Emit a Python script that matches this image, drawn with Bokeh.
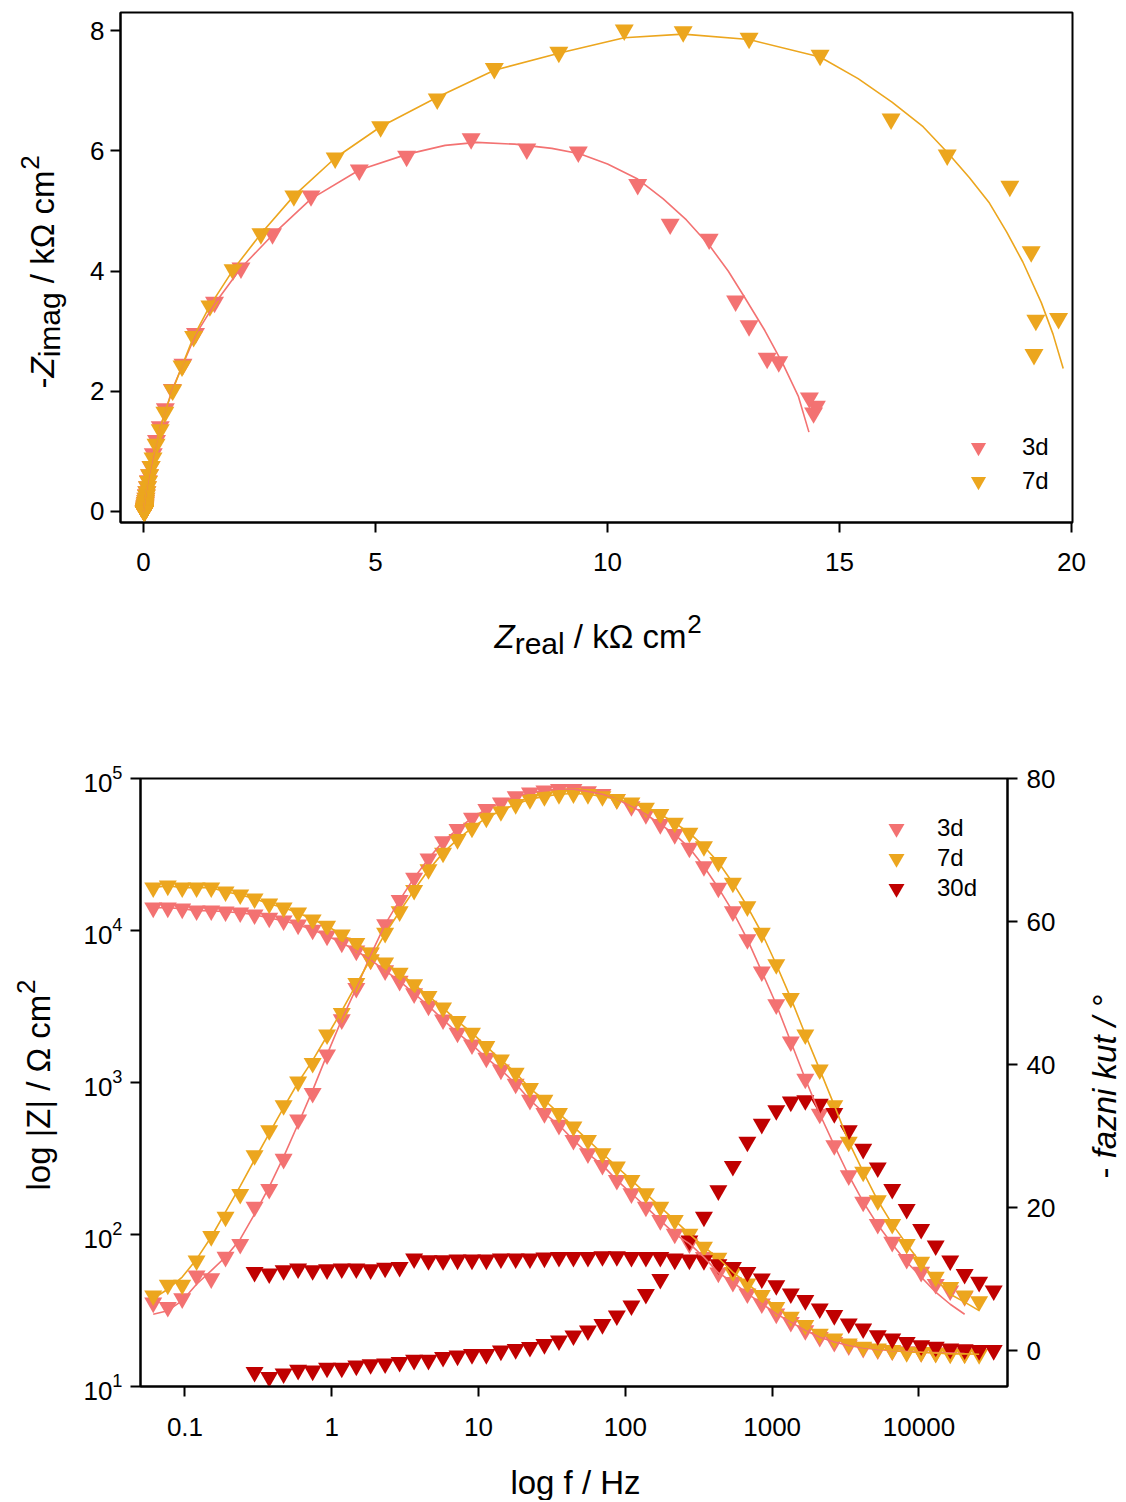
import math
from bokeh.plotting import figure
from bokeh.models import (Range1d, FixedTicker, LinearAxis, LinearScale, Label,
                          Legend, LegendItem, CustomJSTickFormatter)
from bokeh.layouts import column, row
from bokeh.embed import file_html
from bokeh.resources import INLINE

# ---------------------------------------------------------------- data
freq_hz = [0.0608, 0.0764, 0.0958, 0.120, 0.151, 0.189, 0.238, 0.298, 0.375, 0.470,
           0.590, 0.741, 0.929, 1.17, 1.47, 1.84, 2.31, 2.90, 3.64, 4.56,
           5.73, 7.19, 9.02, 11.3, 14.2, 17.9, 22.4, 28.1, 35.3, 44.3,
           55.6, 69.8, 87.5, 110, 138, 173, 217, 273, 343, 430,
           540, 678, 850, 1067, 1340, 1682, 2110, 2650, 3325, 4170,
           5240, 6575, 8250, 10350, 13000, 16330, 20470, 25700, 32300]
freq_3d = freq_hz[:57]
freq_7d = freq_hz[:58]
freq_30d = freq_hz[7:59]

zmod_3d = [14100, 14100, 13900, 13500, 13500, 13300, 13100, 12700, 12100, 11600,
           10900, 10100, 9230, 8300, 7360, 6400, 5450, 4650, 3850, 3190,
           2590, 2120, 1775, 1450, 1213, 980, 767, 627, 525, 418,
           341, 286, 228, 186, 152, 124, 101, 87, 71, 56,
           48.6, 40.8, 35.1, 30.1, 26.5, 23.4, 21.1, 19.6, 18.6, 17.9,
           17.5, 17.2, 17.0, 16.8, 16.7, 16.6, 16.5]
zmod_7d = [19150, 19700, 19150, 19150, 19150, 18000, 17200, 16200, 15000, 14100,
           13100, 11800, 10700, 9380, 8250, 7150, 6150, 5250, 4420, 3700,
           3100, 2530, 2120, 1730, 1410, 1156, 916, 767, 627, 512,
           418, 341, 279, 228, 186, 152, 124, 101, 82.8, 70,
           56.6, 47.5, 39.8, 33.3, 28.7, 25.3, 22.2, 20.6, 19.1, 18.2,
           17.7, 17.3, 16.8, 16.8, 16.6, 16.4, 16.4, 16.3]
zmod_30d = [56.6, 55.2, 58.1, 59.6, 58.1, 58.8, 59.6, 59.6, 58.8, 60.3,
            61.0, 69.4, 67.6, 67.6, 68.2, 68.2, 68.2, 69.4, 69.4, 69.4,
            70.3, 71.0, 71.0, 71.0, 71.7, 71.7, 71.0, 71.0, 71.0, 69.4,
            68.2, 67.6, 63.6, 61.0, 56.6, 51.2, 46.3, 40.8, 36.9, 32.5,
            29.4, 25.9, 24.0, 21.7, 20.6, 19.6, 18.6, 18.2, 17.7, 17.5,
            17.3, 17.3]

phase_3d = [6.7, 6.1, 7.3, 10.5, 10.1, 13.1, 14.9, 20.1, 22.6, 26.8,
            32.3, 36.0, 41.4, 46.3, 50.7, 55.6, 59.6, 63.0, 66.1, 68.8,
            71.2, 72.9, 74.5, 75.7, 76.6, 77.5, 78.0, 78.3, 78.5, 78.5,
            78.2, 77.8, 77.1, 76.1, 75.0, 73.6, 72.2, 70.3, 67.7, 64.7,
            61.4, 57.5, 53.0, 48.4, 43.2, 38.0, 33.1, 28.7, 24.5, 20.8,
            17.7, 15.2, 12.8, 11.0, 9.3, 8.4, 7.6]
phase_fit_3d = [5.1, 5.6, 7.0, 9.3, 11.2, 13.1, 15.6, 19.1, 22.9, 27.1,
                31.7, 36.4, 41.4, 46.3, 50.7, 55.3, 59.6, 63.0, 66.1, 68.8,
                71.2, 72.9, 74.5, 75.7, 76.6, 77.5, 78.0, 78.3, 78.5, 78.5,
                78.2, 77.8, 77.1, 76.1, 75.0, 73.6, 72.2, 70.3, 67.7, 64.7,
                61.4, 57.5, 53.0, 48.4, 43.2, 38.0, 33.1, 28.7, 24.5, 20.8,
                17.6, 14.9, 12.4, 10.3, 8.2, 6.5, 5.1]
phase_7d = [7.7, 9.2, 9.2, 12.6, 16.0, 18.7, 21.9, 27.3, 30.8, 34.3,
            37.6, 40.2, 44.2, 47.2, 51.4, 54.7, 58.4, 61.4, 64.4, 67.3,
            69.6, 71.5, 73.1, 74.5, 75.4, 76.4, 77.1, 77.5, 77.8, 77.9,
            77.8, 77.5, 77.1, 76.6, 75.9, 75.0, 73.8, 72.4, 70.5, 68.3,
            65.4, 62.1, 58.4, 54.0, 49.3, 44.2, 39.3, 34.3, 29.2, 25.0,
            21.0, 17.7, 14.9, 12.4, 10.3, 8.9, 7.7, 6.9]
phase_fit_7d = [7.3, 8.6, 10.3, 12.8, 15.9, 19.4, 23.0, 26.7, 30.4, 34.0,
                37.5, 40.6, 44.0, 47.5, 51.2, 54.8, 58.3, 61.4, 64.4, 67.2,
                69.6, 71.5, 73.1, 74.5, 75.5, 76.4, 77.1, 77.5, 77.8, 77.9,
                77.8, 77.5, 77.1, 76.6, 75.9, 75.0, 73.8, 72.4, 70.5, 68.3,
                65.4, 62.1, 58.4, 54.0, 49.3, 44.2, 39.3, 34.3, 29.2, 25.0,
                21.0, 17.7, 14.9, 12.2, 10.0, 7.9, 6.8, 5.6]
phase_30d = [-3.0, -3.7, -3.2, -2.7, -2.8, -2.4, -2.4, -2.1, -1.9, -1.8,
             -1.6, -1.3, -1.3, -0.9, -0.7, -0.5, -0.5, 0.0, 0.2, 0.5,
             0.9, 1.4, 2.1, 2.8, 3.7, 4.9, 6.3, 7.9, 10.0, 12.7,
             15.4, 18.7, 22.4, 25.8, 29.2, 31.7, 33.6, 34.8, 35.0, 34.5,
             33.2, 30.8, 28.2, 25.6, 22.6, 19.8, 17.0, 14.7, 12.6, 10.7,
             9.6, 8.4]

# Nyquist (kOhm cm2)
zre_3d = [14.50, 14.44, 14.35, 13.69, 13.44, 13.05, 12.76, 12.19, 11.35, 10.65,
          9.37, 8.26, 7.06, 5.67, 4.65, 3.61, 2.78, 2.10, 1.53, 1.12,
          0.85, 0.62, 0.47, 0.36, 0.28, 0.21, 0.16, 0.13, 0.105, 0.083,
          0.070, 0.060, 0.051, 0.045, 0.039, 0.035, 0.031, 0.029, 0.027, 0.024,
          0.023, 0.022, 0.021, 0.020, 0.019, 0.018, 0.018, 0.017, 0.017, 0.017,
          0.017, 0.017, 0.017, 0.016, 0.016, 0.016, 0.016]
zim_3d = [1.75, 1.64, 1.89, 2.49, 2.55, 3.09, 3.50, 4.53, 4.78, 5.44,
          5.98, 6.03, 6.20, 5.91, 5.68, 5.25, 4.62, 4.05, 3.48, 2.96,
          2.45, 2.03, 1.71, 1.41, 1.18, 0.96, 0.75, 0.61, 0.51, 0.41,
          0.33, 0.28, 0.22, 0.18, 0.15, 0.12, 0.096, 0.082, 0.066, 0.051,
          0.043, 0.034, 0.028, 0.023, 0.018, 0.014, 0.012, 0.009, 0.008, 0.006,
          0.005, 0.0045, 0.004, 0.003, 0.003, 0.002, 0.002]
zre_7d = [19.19, 19.72, 19.23, 19.13, 18.67, 17.32, 16.11, 14.58, 13.05, 11.63,
          10.36, 8.95, 7.56, 6.33, 5.11, 4.13, 3.24, 2.53, 1.93, 1.43,
          1.08, 0.83, 0.63, 0.46, 0.36, 0.27, 0.205, 0.166, 0.133, 0.107,
          0.088, 0.074, 0.062, 0.053, 0.045, 0.039, 0.035, 0.031, 0.028, 0.026,
          0.024, 0.022, 0.021, 0.019, 0.019, 0.018, 0.017, 0.017, 0.017, 0.017,
          0.017, 0.017, 0.017, 0.017, 0.017, 0.016, 0.016, 0.016]
zim_7d = [2.61, 3.21, 3.18, 4.32, 5.41, 5.93, 6.53, 7.59, 7.87, 7.98,
          8.01, 7.64, 7.37, 6.86, 6.40, 5.88, 5.25, 4.62, 4.02, 3.42,
          2.91, 2.42, 2.02, 1.65, 1.36, 1.12, 0.89, 0.75, 0.61, 0.50,
          0.41, 0.33, 0.27, 0.22, 0.18, 0.147, 0.119, 0.096, 0.078, 0.065,
          0.052, 0.042, 0.034, 0.027, 0.022, 0.018, 0.014, 0.012, 0.010, 0.008,
          0.006, 0.005, 0.004, 0.004, 0.003, 0.002, 0.002, 0.002]

fit_zre_3d = [0.0, 0.05, 0.12, 0.22, 0.36, 0.62, 0.85, 1.13, 1.53, 2.10,
              2.78, 3.61, 4.65, 5.67, 6.50, 7.18, 8.00, 8.80, 9.40, 10.00,
              10.65, 11.20, 11.70, 12.20, 12.60, 12.94, 13.39, 13.79, 14.11, 14.34]
fit_zim_3d = [0.0, 0.30, 0.60, 0.95, 1.40, 2.03, 2.45, 2.95, 3.45, 4.05,
              4.60, 5.20, 5.68, 5.94, 6.09, 6.14, 6.11, 6.04, 5.95, 5.78,
              5.53, 5.20, 4.85, 4.42, 4.00, 3.58, 3.01, 2.44, 1.92, 1.32]
fit_zre_7d = [0.0, 0.04, 0.10, 0.19, 0.33, 0.46, 0.63, 0.83, 1.08, 1.43,
              1.93, 2.53, 3.24, 4.13, 5.11, 6.33, 7.56, 8.99, 10.36, 11.63,
              13.05, 14.58, 15.40, 16.13, 16.80, 17.34, 17.80, 18.23, 18.60, 18.95,
              19.35, 19.60, 19.82]
fit_zim_7d = [0.0, 0.25, 0.55, 0.90, 1.30, 1.65, 2.02, 2.42, 2.91, 3.42,
              4.02, 4.62, 5.25, 5.88, 6.40, 6.89, 7.34, 7.63, 7.88, 7.94,
              7.85, 7.56, 7.20, 6.81, 6.40, 5.96, 5.55, 5.13, 4.65, 4.15,
              3.47, 2.95, 2.38]

series_labels = ["3d", "7d", "30d"]
x_ticks_nyq = [0, 5, 10, 15, 20]
y_ticks_nyq = [0, 2, 4, 6, 8]
x_ticks_bode = [0.1, 1, 10, 100, 1000, 10000]
y_ticks_phase = [0, 20, 40, 60, 80]

# ---------------------------------------------------------------- style
FONT = "Liberation Sans"
C3 = "#F37272"
C7 = "#ECA61E"
C30 = "#C00000"
MSIZE = 18
BASE_FIX = 10   # empirical baseline correction for Label text

WID = {' ': 278, '-': 333, '/': 278, '|': 260, '°': 400, 'Z': 611, 'H': 722,
       'Ω': 768, 'a': 556, 'c': 500, 'e': 556, 'f': 278, 'g': 556, 'i': 222,
       'k': 500, 'l': 222, 'm': 833, 'n': 556, 'o': 556, 'r': 333, 't': 278,
       'u': 556, 'z': 500}


def tw(s, size):
    return sum(WID.get(ch, 556) for ch in s) * size / 1000.0


def no_align(p):
    if "frame_align" in p.properties():
        p.frame_align = False


def text_fig(left, top, w, h):
    t = figure(width=w, height=h, x_range=Range1d(0, w), y_range=Range1d(0, h),
               output_backend="svg", toolbar_location=None,
               x_axis_location=None, y_axis_location=None,
               min_border=0, min_border_left=0, min_border_right=0,
               min_border_top=0, min_border_bottom=0, outline_line_color=None)
    t.grid.visible = False
    no_align(t)
    t._page = (left, top + h)   # page coords of bottom-left corner
    return t


def add_text(t, px, py, text, size, angle=0.0, style="normal", align="left"):
    left, bottom = t._page
    if angle == 0.0:
        py = py - BASE_FIX
    else:
        px = px - BASE_FIX
    t.add_layout(Label(x=px - left, y=bottom - py, x_units="data", y_units="data",
                       text=text, text_font=FONT, text_font_size=f"{size}px",
                       text_font_style=style, text_color="black",
                       text_align=align, text_baseline="alphabetic", angle=angle))


def add_rich(t, px, py, pieces, rotated=False):
    # pieces: (text, size, style, raise_px, gap_before_px)
    pos = 0.0
    for text, size, style, shift, gap in pieces:
        pos += gap
        if not rotated:
            add_text(t, px + pos, py - shift, text, size, 0.0, style)
        else:
            add_text(t, px - shift, py - pos, text, size, math.pi / 2, style)
        pos += tw(text, size)


def style_axes(p):
    p.grid.visible = False
    p.outline_line_color = "black"
    p.outline_line_width = 2
    for ax in p.axis:
        ax.axis_line_width = 2
        ax.axis_line_color = "black"
        ax.major_tick_in = 0
        ax.major_tick_out = 10
        ax.major_tick_line_width = 2
        ax.major_tick_line_color = "black"
        ax.minor_tick_line_color = None
        ax.major_label_text_font = FONT
        ax.major_label_text_font_size = "26px"
        ax.major_label_text_color = "black"


def legend_entry(p, label, rend, x, y, glyph):
    # one legend entry per Legend so that entries can sit closer than the glyph box
    p.add_layout(Legend(items=[LegendItem(label=label, renderers=[rend])],
                        location=(x, y), glyph_width=glyph, glyph_height=glyph,
                        spacing=0, label_standoff=61 - glyph if glyph == 40 else 25,
                        padding=0, margin=0, border_line_alpha=0,
                        background_fill_alpha=0, label_text_font=FONT,
                        label_text_font_size="24px", label_text_color="black"))


SP = 9.2  # width of a space at 33px

# ---------------------------------------------------------------- Nyquist
pA = figure(width=1042, height=582, output_backend="svg", toolbar_location=None,
            x_range=Range1d(-0.496, 20.02), y_range=Range1d(-0.183, 8.30),
            min_border_left=40, min_border_right=50, min_border_top=12,
            min_border_bottom=60)
no_align(pA)
pA.xaxis.ticker = FixedTicker(ticks=x_ticks_nyq)
pA.yaxis.ticker = FixedTicker(ticks=y_ticks_nyq)
style_axes(pA)
pA.xaxis.major_label_standoff = 20
pA.yaxis.major_label_standoff = 6

rA3 = pA.scatter(zre_3d, zim_3d, marker="inverted_triangle", size=MSIZE + 1,
                 fill_color=C3, line_alpha=0)
rA7 = pA.scatter(zre_7d, zim_7d, marker="inverted_triangle", size=MSIZE + 1,
                 fill_color=C7, line_alpha=0)
pA.line(fit_zre_3d, fit_zim_3d, line_color=C3, line_width=1.6)
pA.line(fit_zre_7d, fit_zim_7d, line_color=C7, line_width=1.6)

legend_entry(pA, series_labels[0], rA3, 839, 56, 38)
legend_entry(pA, series_labels[1], rA7, 839, 22, 38)

tA_left = text_fig(0, 0, 80, 582)
add_rich(tA_left, 52, 388,
         [("-", 33, "normal", 0, 0), ("Z", 33, "italic", 0, 0),
          ("imag", 30, "normal", -7, 0), ("/ kΩ cm", 33, "normal", 0, SP),
          ("2", 26, "normal", 13, 0)], rotated=True)

tA_bot = text_fig(0, 582, 1120, 176)
add_rich(tA_bot, 494, 646,
         [("Z", 33, "italic", 0, 0), ("real", 30, "normal", -7, 0),
          ("/ kΩ cm", 33, "normal", 0, SP), ("2", 26, "normal", 13, 0)])

# ---------------------------------------------------------------- Bode
pB = figure(width=1000, height=688, output_backend="svg", toolbar_location=None,
            x_axis_type="log", y_axis_type="log",
            x_range=Range1d(0.0498, 40100), y_range=Range1d(10, 100000),
            min_border_left=80, min_border_right=53, min_border_top=20,
            min_border_bottom=60)
no_align(pB)
pB.extra_y_ranges = {"phase": Range1d(-5, 80)}
pB.extra_y_scales = {"phase": LinearScale()}
pB.add_layout(LinearAxis(y_range_name="phase",
                         ticker=FixedTicker(ticks=y_ticks_phase)), "right")
pB.xaxis.ticker = FixedTicker(ticks=x_ticks_bode)
pB.xaxis.formatter = CustomJSTickFormatter(code="return String(tick)")
style_axes(pB)
pB.xaxis.major_label_standoff = 21
pB.yaxis[0].major_label_standoff = 8
pB.yaxis[1].major_label_standoff = 9

r3m = pB.scatter(freq_3d, zmod_3d, marker="inverted_triangle", size=MSIZE,
                 fill_color=C3, line_alpha=0)
r3p = pB.scatter(freq_3d, phase_3d, marker="inverted_triangle", size=MSIZE,
                 fill_color=C3, line_alpha=0, y_range_name="phase")
r7m = pB.scatter(freq_7d, zmod_7d, marker="inverted_triangle", size=MSIZE,
                 fill_color=C7, line_alpha=0)
r7p = pB.scatter(freq_7d, phase_7d, marker="inverted_triangle", size=MSIZE,
                 fill_color=C7, line_alpha=0, y_range_name="phase")
r30m = pB.scatter(freq_30d, zmod_30d, marker="inverted_triangle", size=MSIZE,
                  fill_color=C30, line_alpha=0)
r30p = pB.scatter(freq_30d, phase_30d, marker="inverted_triangle", size=MSIZE,
                  fill_color=C30, line_alpha=0, y_range_name="phase")
pB.line(freq_3d, zmod_3d, line_color=C3, line_width=1.6)
pB.line(freq_7d, zmod_7d, line_color=C7, line_width=1.6)
pB.line(freq_3d, phase_fit_3d, line_color=C3, line_width=1.6, y_range_name="phase")
pB.line(freq_7d, phase_fit_7d, line_color=C7, line_width=1.6, y_range_name="phase")

legend_entry(pB, series_labels[0], r3m, 736, 538, 40)
legend_entry(pB, series_labels[1], r7m, 736, 508, 40)
legend_entry(pB, series_labels[2], r30m, 736, 478, 40)

tB_left = text_fig(0, 758, 60, 688)
add_rich(tB_left, 48, 1190,
         [("log |Z| / Ω cm", 33, "normal", 0, 0), ("2", 26, "normal", 13, 0)],
         rotated=True)

tB_right = text_fig(1060, 758, 62, 688)
add_rich(tB_right, 1114, 1178,
         [("-", 33, "normal", 0, 0), ("fazni kut / °", 33, "italic", 0, SP)],
         rotated=True)

tB_bot = text_fig(0, 1446, 1120, 54)
add_text(tB_bot, 575, 1492, "log f / Hz", 33, align="center")

layout = column(row(tA_left, pA), tA_bot, row(tB_left, pB, tB_right), tB_bot)
open("out.html", "w").write(file_html(layout, INLINE))
